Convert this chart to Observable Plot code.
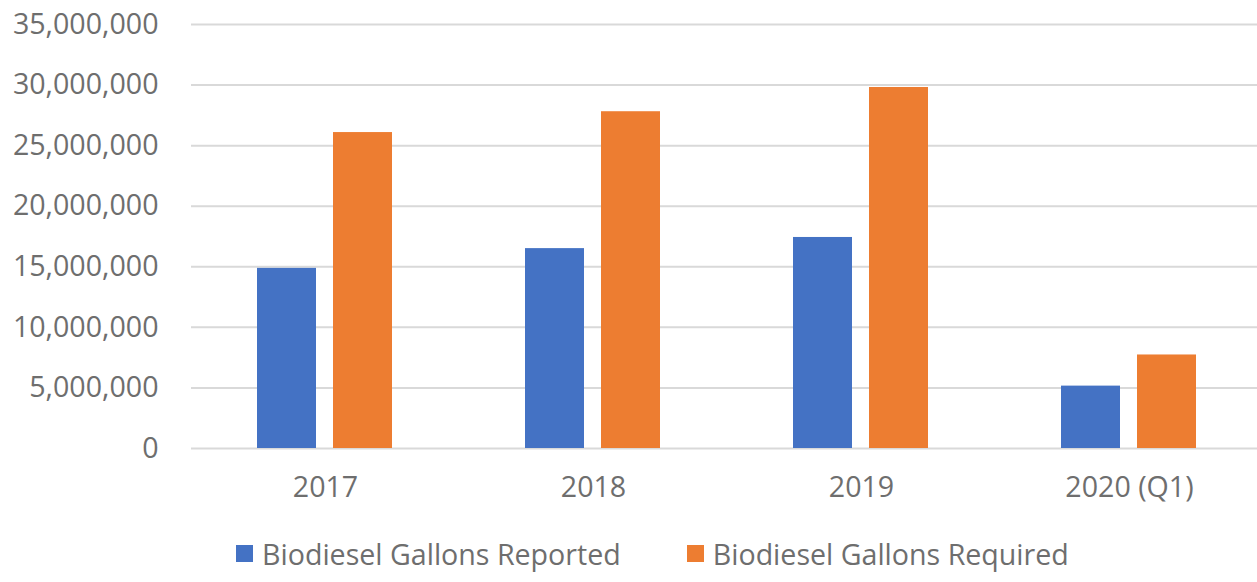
<!DOCTYPE html>
<html>
<head>
<meta charset="utf-8">
<script src="https://cdn.jsdelivr.net/npm/d3@7"></script>
<script src="https://cdn.jsdelivr.net/npm/@observablehq/plot@0.6"></script>
<style>
  html, body { margin: 0; padding: 0; background: #fff; overflow: hidden; }
  body { width: 1257px; height: 582px; font-family: "Open Sans", sans-serif; color: #6e6e6e; }
  #legend { display: flex; justify-content: flex-start; align-items: center; height: 57px; font-size: 28.6px; padding-left: 236px; }
  .item { display: flex; align-items: center; }
  .sw { width: 17px; height: 17px; margin-right: 9px; }
</style>
</head>
<body>
<div id="chart"></div>
<div id="legend"></div>
<script>
const years = ["2017", "2018", "2019", "2020 (Q1)"];
const series = ["Biodiesel Gallons Reported", "Biodiesel Gallons Required"];
const reported = [14870000, 16500000, 17420000, 5150000];
const required = [26080000, 27800000, 29800000, 7720000];
const colors = ["#4472C4", "#ED7D31"];
const yTicks = [0, 5000000, 10000000, 15000000, 20000000, 25000000, 30000000, 35000000];

const data = [];
years.forEach((y, i) => {
  data.push({year: y, series: series[0], value: reported[i]});
  data.push({year: y, series: series[1], value: required[i]});
});

const fmt = d3.format(",");
const chart = Plot.plot({
  width: 1257,
  height: 525,
  marginLeft: 190,
  marginRight: -7,
  marginTop: 24,
  marginBottom: 77,
  style: {fontFamily: "Open Sans, sans-serif", fontSize: "28.6px", color: "#6e6e6e", background: "#fff"},
  fx: {domain: years, padding: 0, label: null, axis: null},
  x: {domain: series, paddingInner: 0.2208, paddingOuter: 0.854, axis: null},
  y: {domain: [0, 35000000], ticks: yTicks, label: null},
  color: {domain: series, range: colors},
  marks: [
    Plot.gridY(yTicks, {stroke: "#d9d9d9", strokeOpacity: 1, strokeWidth: 2}),
    Plot.barY(data, {fx: "year", x: "series", y: "value", fill: "series"}),
    Plot.axisY(yTicks, {tickSize: 0, tickPadding: 33, tickFormat: fmt, label: null, fill: "#6e6e6e"}),
    Plot.axisFx({anchor: "bottom", tickSize: 0, tickPadding: 28, label: null, fill: "#6e6e6e"})
  ]
});
document.getElementById("chart").appendChild(chart);

const legend = document.getElementById("legend");
series.forEach((s, i) => {
  const it = document.createElement("div");
  it.className = "item";
  it.style.marginRight = i === 0 ? "66px" : "0";
  const sw = document.createElement("span");
  sw.className = "sw";
  sw.style.background = colors[i];
  const t = document.createElement("span");
  t.textContent = s;
  it.appendChild(sw); it.appendChild(t);
  legend.appendChild(it);
});
</script>
</body>
</html>
